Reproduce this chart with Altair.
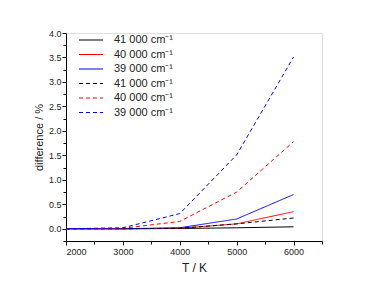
import altair as alt
import pandas as pd

T = [2000, 3000, 4000, 5000, 6000]
solid_41000 = [0.0, 0.0, 0.005, 0.02, 0.04]
solid_40000 = [0.0, 0.0, 0.01, 0.10, 0.35]
solid_39000 = [0.0, 0.0, 0.02, 0.20, 0.70]
dash_41000 = [0.0, 0.0, 0.01, 0.10, 0.22]
dash_40000 = [0.0, 0.01, 0.15, 0.75, 1.78]
dash_39000 = [0.0, 0.02, 0.31, 1.51, 3.51]

series_keys = ["s1", "s2", "s3", "s4", "s5", "s6"]
series_labels = ["41 000 cm⁻¹", "40 000 cm⁻¹", "39 000 cm⁻¹",
                 "41 000 cm⁻¹", "40 000 cm⁻¹", "39 000 cm⁻¹"]
series_values = [solid_41000, solid_40000, solid_39000,
                 dash_41000, dash_40000, dash_39000]
colors = ["#000000", "#ff0000", "#0000ff", "#000000", "#ff0000", "#0000ff"]
dashes = [[1, 0], [1, 0], [1, 0], [4, 3], [4, 3], [4, 3]]

rows = []
for k, vals in zip(series_keys, series_values):
    for t, v in zip(T, vals):
        rows.append({"T": t, "diff": v, "series": k})
df = pd.DataFrame(rows)

label_map = "{" + ",".join(f"'{k}':'{l}'" for k, l in zip(series_keys, series_labels)) + "}"

FONT = "Liberation Sans"

x_scale = alt.Scale(domain=[2000, 6500], nice=False, zero=False)
y_scale = alt.Scale(domain=[-0.25, 4.0], nice=False, zero=False)

lines = alt.Chart(df).mark_line(strokeWidth=1).encode(
    x=alt.X("T:Q", scale=x_scale,
            axis=alt.Axis(title="T / K", values=[2000, 3000, 4000, 5000, 6000],
                          format="d", tickSize=4, labelPadding=2, titlePadding=6,
                          labelFontSize=9, titleFontSize=12, grid=False,
                          domainColor="black", tickColor="black",
                          labelColor="#222", titleColor="#222",
                          labelFont=FONT, titleFont=FONT, titleFontWeight="normal")),
    y=alt.Y("diff:Q", scale=y_scale,
            axis=alt.Axis(title="difference / %", values=[0, 0.5, 1, 1.5, 2, 2.5, 3, 3.5, 4],
                          format=".1f", tickSize=4, labelPadding=1, titlePadding=4,
                          labelFontSize=9, titleFontSize=11, grid=False,
                          domainColor="black", tickColor="black",
                          labelColor="#222", titleColor="#222",
                          labelFont=FONT, titleFont=FONT, titleFontWeight="normal")),
    color=alt.Color("series:N", scale=alt.Scale(domain=series_keys, range=colors),
                    legend=alt.Legend(title=None, orient="none", legendX=18, legendY=0,
                                      symbolType="M-2,0H2", symbolSize=144,
                                      symbolStrokeWidth=1.2,
                                      labelExpr=f"{label_map}[datum.value]",
                                      labelFont=FONT, labelFontSize=11, labelColor="#222",
                                      rowPadding=2.5, labelOffset=16)),
    strokeDash=alt.StrokeDash("series:N", scale=alt.Scale(domain=series_keys, range=dashes),
                              legend=None),
    detail="series:N",
)

minor_x = [2500, 3500, 4500, 5500, 6500]
minor_y = [-0.25, 0.25, 0.75, 1.25, 1.75, 2.25, 2.75, 3.25, 3.75]

minor = alt.Chart(df).mark_point(opacity=0).encode(
    x=alt.X("T:Q", scale=x_scale,
            axis=alt.Axis(title=None, values=minor_x, labels=False, tickSize=3,
                          domain=False, grid=False, tickColor="black", orient="bottom")),
    y=alt.Y("diff:Q", scale=y_scale,
            axis=alt.Axis(title=None, values=minor_y, labels=False, tickSize=3,
                          domain=False, grid=False, tickColor="black", orient="left")),
)

chart = alt.layer(lines, minor).resolve_axis(x="independent", y="independent").properties(
    width=256, height=208,
    autosize=alt.AutoSizeParams(type="none"),
    padding={"left": 58, "top": 25, "right": 44, "bottom": 40},
).configure_view(stroke=None).configure(background="white")

chart.save("out.html", embed_options={"renderer": "svg", "actions": False})
